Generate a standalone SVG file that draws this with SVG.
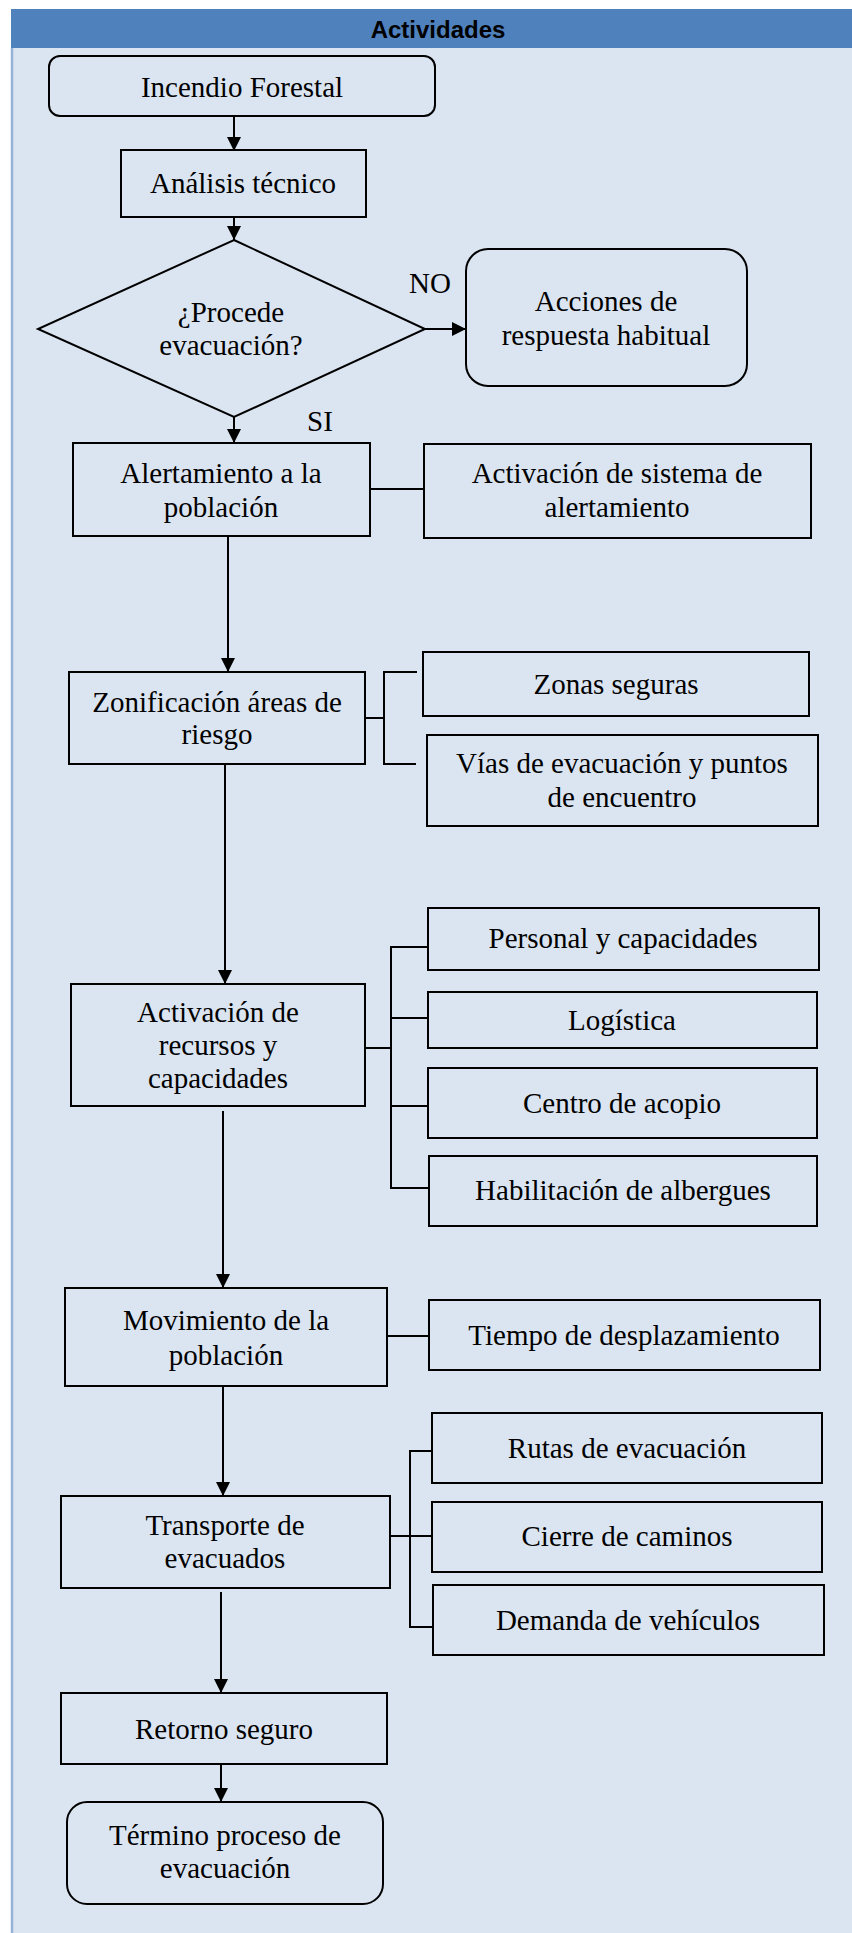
<svg xmlns="http://www.w3.org/2000/svg" width="852" height="1933" viewBox="0 0 852 1933">
<defs>
<style>
.bx{fill:none;stroke:#000;stroke-width:2}
.ln{fill:none;stroke:#000;stroke-width:2}
.t{font-family:"Liberation Serif","Times New Roman",serif;font-size:29px;fill:#000;text-anchor:middle}
.h{font-family:"Liberation Sans",Arial,sans-serif;font-size:24px;font-weight:bold;fill:#000;text-anchor:middle}
</style>
<marker id="ah" markerUnits="userSpaceOnUse" markerWidth="14" markerHeight="15" refX="14" refY="7" orient="auto" viewBox="0 0 14 14">
<path d="M0,0 L14,7 L0,14 Z" fill="#000"/>
</marker>
</defs>
<rect x="0" y="0" width="852" height="1933" fill="#fff"/>
<rect x="12" y="9" width="840" height="1924" fill="#DBE5F1"/>
<rect x="11" y="9" width="841" height="39" fill="#4F81BD"/>
<line x1="12" y1="48" x2="12" y2="1933" stroke="#95B3D7" stroke-width="2.5"/>
<text class="h" x="438" y="38">Actividades</text>

<g id="connectors">
<line class="ln" x1="234" y1="116" x2="234" y2="151" marker-end="url(#ah)"/>
<line class="ln" x1="234" y1="217" x2="234" y2="240" marker-end="url(#ah)"/>
<line class="ln" x1="425" y1="329" x2="466" y2="329" marker-end="url(#ah)"/>
<line class="ln" x1="234" y1="417" x2="234" y2="443" marker-end="url(#ah)"/>
<line class="ln" x1="370" y1="489" x2="424" y2="489"/>
<line class="ln" x1="228" y1="536" x2="228" y2="672" marker-end="url(#ah)"/>
<polyline class="ln" points="365,718 385,718"/>
<polyline class="ln" points="417,672 384,672 384,764 416,764"/>
<line class="ln" x1="225" y1="764" x2="225" y2="984" marker-end="url(#ah)"/>
<line class="ln" x1="365" y1="1048" x2="391" y2="1048"/>
<polyline class="ln" points="428,947 391,947 391,1188 429,1188"/>
<line class="ln" x1="391" y1="1018" x2="428" y2="1018"/>
<line class="ln" x1="391" y1="1106" x2="428" y2="1106"/>
<line class="ln" x1="223" y1="1111" x2="223" y2="1288" marker-end="url(#ah)"/>
<line class="ln" x1="387" y1="1336" x2="429" y2="1336"/>
<line class="ln" x1="223" y1="1386" x2="223" y2="1496" marker-end="url(#ah)"/>
<line class="ln" x1="390" y1="1536" x2="432" y2="1536"/>
<polyline class="ln" points="432,1451 410,1451 410,1627 433,1627"/>
<line class="ln" x1="221" y1="1592" x2="221" y2="1693" marker-end="url(#ah)"/>
<line class="ln" x1="221" y1="1764" x2="221" y2="1802" marker-end="url(#ah)"/>
</g>

<g id="n-incendio">
<rect class="bx" x="49" y="56" width="386" height="60" rx="11"/>
<text class="t" x="242" y="97">Incendio Forestal</text>
</g>
<g id="n-analisis">
<rect class="bx" x="121" y="150" width="245" height="67"/>
<text class="t" x="243" y="193">Análisis técnico</text>
</g>
<g id="n-decision">
<polygon class="bx" points="234,240 425,329 234,417 38,329"/>
<text class="t" x="231" y="322">¿Procede</text>
<text class="t" x="231" y="355">evacuación?</text>
</g>
<text class="t" x="430" y="293">NO</text>
<text class="t" x="320" y="431">SI</text>
<g id="n-acciones">
<rect class="bx" x="466" y="249" width="281" height="137" rx="22"/>
<text class="t" x="606" y="311">Acciones de</text>
<text class="t" x="606" y="345">respuesta habitual</text>
</g>
<g id="n-alertamiento">
<rect class="bx" x="73" y="443" width="297" height="93"/>
<text class="t" x="221" y="483">Alertamiento a la</text>
<text class="t" x="221" y="517">población</text>
</g>
<g id="n-sistema">
<rect class="bx" x="424" y="444" width="387" height="94"/>
<text class="t" x="617" y="483">Activación de sistema de</text>
<text class="t" x="617" y="517">alertamiento</text>
</g>
<g id="n-zonificacion">
<rect class="bx" x="69" y="672" width="296" height="92"/>
<text class="t" x="217" y="712">Zonificación áreas de</text>
<text class="t" x="217" y="744">riesgo</text>
</g>
<g id="n-zonas">
<rect class="bx" x="423" y="652" width="386" height="64"/>
<text class="t" x="616" y="694">Zonas seguras</text>
</g>
<g id="n-vias">
<rect class="bx" x="427" y="735" width="391" height="91"/>
<text class="t" x="622" y="773">Vías de evacuación y puntos</text>
<text class="t" x="622" y="807">de encuentro</text>
</g>
<g id="n-recursos">
<rect class="bx" x="71" y="984" width="294" height="122"/>
<text class="t" x="218" y="1022">Activación de</text>
<text class="t" x="218" y="1055">recursos y</text>
<text class="t" x="218" y="1088">capacidades</text>
</g>
<g id="n-personal">
<rect class="bx" x="428" y="908" width="391" height="62"/>
<text class="t" x="623" y="948">Personal y capacidades</text>
</g>
<g id="n-logistica">
<rect class="bx" x="428" y="992" width="389" height="56"/>
<text class="t" x="622" y="1030">Logística</text>
</g>
<g id="n-centro">
<rect class="bx" x="428" y="1068" width="389" height="70"/>
<text class="t" x="622" y="1113">Centro de acopio</text>
</g>
<g id="n-albergues">
<rect class="bx" x="429" y="1156" width="388" height="70"/>
<text class="t" x="623" y="1200">Habilitación de albergues</text>
</g>
<g id="n-movimiento">
<rect class="bx" x="65" y="1288" width="322" height="98"/>
<text class="t" x="226" y="1330">Movimiento de la</text>
<text class="t" x="226" y="1365">población</text>
</g>
<g id="n-tiempo">
<rect class="bx" x="429" y="1300" width="391" height="70"/>
<text class="t" x="624" y="1345">Tiempo de desplazamiento</text>
</g>
<g id="n-transporte">
<rect class="bx" x="61" y="1496" width="329" height="92"/>
<text class="t" x="225" y="1535">Transporte de</text>
<text class="t" x="225" y="1568">evacuados</text>
</g>
<g id="n-rutas">
<rect class="bx" x="432" y="1413" width="390" height="70"/>
<text class="t" x="627" y="1458">Rutas de evacuación</text>
</g>
<g id="n-cierre">
<rect class="bx" x="432" y="1502" width="390" height="70"/>
<text class="t" x="627" y="1546">Cierre de caminos</text>
</g>
<g id="n-demanda">
<rect class="bx" x="433" y="1585" width="391" height="70"/>
<text class="t" x="628" y="1630">Demanda de vehículos</text>
</g>
<g id="n-retorno">
<rect class="bx" x="61" y="1693" width="326" height="71"/>
<text class="t" x="224" y="1739">Retorno seguro</text>
</g>
<g id="n-termino">
<rect class="bx" x="67" y="1802" width="316" height="102" rx="20"/>
<text class="t" x="225" y="1845">Término proceso de</text>
<text class="t" x="225" y="1878">evacuación</text>
</g>
</svg>
